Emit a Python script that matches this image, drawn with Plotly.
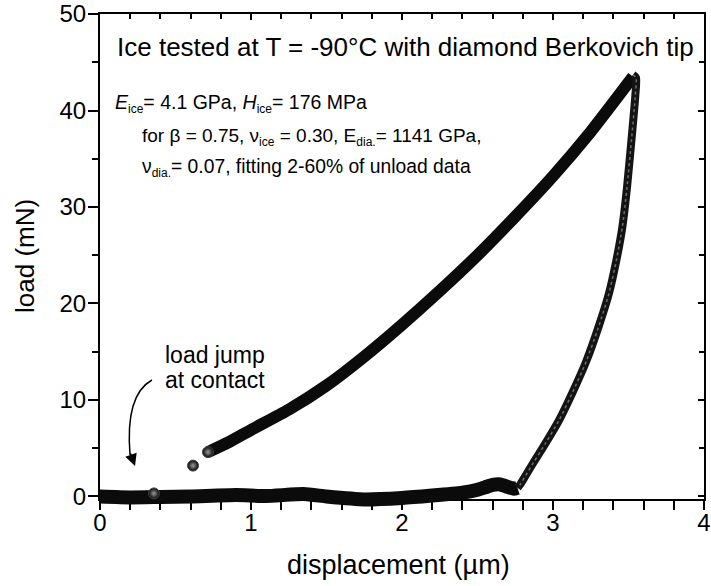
import plotly.graph_objects as go

# ---- data (displacement in µm, load in mN) ----
# isolated points before/at contact
contact_x = [-0.045, 0.357, 0.616, 0.715]
contact_y = [0.1, 0.32, 3.2, 4.6]

# loading branch
load_x = [0.715, 0.85, 1.0, 1.25, 1.5, 1.75, 2.0, 2.25, 2.5, 2.75, 3.0, 3.25, 3.53]
load_y = [4.6, 5.6, 6.9, 9.0, 11.5, 14.5, 17.8, 21.3, 25.0, 29.0, 33.2, 37.8, 43.5]

# unloading branch (peak down to the dip)
unload_x = [3.53, 3.55, 3.545, 3.52, 3.49, 3.46, 3.42, 3.37, 3.30, 3.22, 3.13, 3.04, 2.95, 2.87, 2.82, 2.785, 2.765]
unload_y = [43.7, 43.4, 41.5, 37.0, 32.0, 28.0, 24.5, 21.0, 17.5, 14.0, 10.8, 7.9, 5.5, 3.5, 2.2, 1.3, 0.9]

# retraction / baseline band near zero load
base_x = [2.765, 2.74, 2.70, 2.65, 2.60, 2.55, 2.50, 2.40, 2.20, 2.00, 1.75, 1.50, 1.35, 1.10, 0.90, 0.60, 0.40, 0.20, -0.02]
base_y = [0.9, 0.8, 1.0, 1.25, 1.2, 0.95, 0.7, 0.4, 0.1, -0.15, -0.3, 0.0, 0.25, 0.05, 0.15, 0.0, -0.05, -0.1, 0.0]

x_ticks = [0, 1, 2, 3, 4]
y_ticks = [0, 10, 20, 30, 40, 50]

FONT = "Liberation Sans, Arial, sans-serif"
X_RANGE = [0, 4]
Y_RANGE = [-0.26, 50]

# ---- geometry (pixels) ----
W, H = 711, 586
ML, MR, MT, MB = 100, 7, 14, 60
PAPER_BOTTOM = H - MB          # 526
PLOT_BOTTOM = 499              # where the x axis line sits
PAPER_H = PAPER_BOTTOM - MT
PAPER_W = W - ML - MR
main_y0 = (PAPER_BOTTOM - PLOT_BOTTOM) / PAPER_H
ppu = (PLOT_BOTTOM - MT) / (Y_RANGE[1] - Y_RANGE[0])
helper_ymin = Y_RANGE[0] - (PAPER_BOTTOM - PLOT_BOTTOM) / ppu


def px(xp):
    return (xp - ML) / PAPER_W


def py(yp):
    return (PAPER_BOTTOM - yp) / PAPER_H


def sub(t, size=12):
    return '<sub><span style="font-size:%dpx">%s</span></sub>' % (size, t)


fig = go.Figure()

# curves drawn on an invisible helper subplot that extends below the x axis (so the band is not clipped)
common = dict(xaxis="x3", yaxis="y3", hoverinfo="skip", showlegend=False, cliponaxis=False)
fig.add_trace(go.Scatter(x=base_x, y=base_y, mode="lines",
                         line=dict(color="#0b0b0b", width=14, shape="spline", smoothing=0.5), **common))
fig.add_trace(go.Scatter(x=load_x, y=load_y, mode="lines",
                         line=dict(color="#0b0b0b", width=12, shape="spline", smoothing=0.6), **common))
fig.add_trace(go.Scatter(x=unload_x, y=unload_y, mode="lines",
                         line=dict(color="#141414", width=8, shape="spline", smoothing=0.6), **common))
fig.add_trace(go.Scatter(x=unload_x, y=unload_y, mode="lines",
                         line=dict(color="#6e6e6e", width=1.5, shape="spline", smoothing=0.6, dash="dot"), **common))
fig.add_trace(go.Scatter(x=contact_x, y=contact_y, mode="markers",
                         marker=dict(size=11, color="#050505", line=dict(color="#444444", width=1),
                                     gradient=dict(type="radial", color="#9a9a9a")), **common))

# dummy traces for the visible axes
fig.add_trace(go.Scatter(x=[None], y=[None], showlegend=False, hoverinfo="skip"))
fig.add_trace(go.Scatter(x=[None], y=[None], xaxis="x2", yaxis="y2", showlegend=False, hoverinfo="skip"))

axis_common = dict(showline=True, linecolor="black", linewidth=2, showgrid=False, zeroline=False,
                   tickcolor="black", tickwidth=2, automargin=False,
                   tickfont=dict(family=FONT, size=24, color="black"))

fig.update_layout(
    xaxis=dict(range=X_RANGE, tickvals=x_ticks, ticks="outside", ticklen=9, anchor="y",
               ticklabelstandoff=-8,
               minor=dict(dtick=0.2, tick0=0, ticks="outside", ticklen=9, tickwidth=2, tickcolor="black"),
               **axis_common),
    yaxis=dict(range=Y_RANGE, domain=[main_y0, 1], tickvals=y_ticks, ticks="outside", ticklen=10,
               anchor="x", ticklabelstandoff=-3,
               minor=dict(dtick=5, tick0=0, ticks="outside", ticklen=6, tickwidth=2, tickcolor="black"),
               **axis_common),
    xaxis2=dict(overlaying="x", side="top", anchor="y2", range=X_RANGE, tickvals=x_ticks, ticks="inside",
                ticklen=6, showticklabels=False, showline=True, linecolor="black", linewidth=2,
                showgrid=False, zeroline=False, tickcolor="black", tickwidth=2, automargin=False,
                minor=dict(dtick=0.2, tick0=0, ticks="inside", ticklen=5, tickwidth=2, tickcolor="black")),
    yaxis2=dict(overlaying="y", side="right", anchor="x2", range=Y_RANGE, tickvals=y_ticks, ticks="inside",
                ticklen=6, showticklabels=False, showline=True, linecolor="black", linewidth=2,
                showgrid=False, zeroline=False, tickcolor="black", tickwidth=2, automargin=False,
                minor=dict(dtick=5, tick0=0, ticks="inside", ticklen=5, tickwidth=2, tickcolor="black")),
    xaxis3=dict(domain=[0, 1], range=X_RANGE, anchor="y3", visible=False, fixedrange=True),
    yaxis3=dict(domain=[0, 1], range=[helper_ymin, Y_RANGE[1]], anchor="x3", visible=False, fixedrange=True),
)

annotations = [
    dict(text="Ice tested at T = -90°C with diamond Berkovich tip", x=116, y=47, size=26),
    dict(text="<i>E</i>" + sub("ice") + "= 4.1 GPa, <i>H</i>" + sub("ice") + "= 176 MPa", x=114, y=103, size=19.5),
    dict(text="for β = 0.75, ν" + sub("ice") + " = 0.30, E" + sub("dia.") + "= 1141 GPa,", x=141, y=137, size=19),
    dict(text="ν" + sub("dia.") + "= 0.07, fitting 2-60% of unload data", x=141, y=168, size=19.3),
]
for a in annotations:
    fig.add_annotation(text=a["text"], x=px(a["x"]), y=py(a["y"]), xref="paper", yref="paper",
                       xanchor="left", yanchor="middle", showarrow=False, borderpad=0,
                       font=dict(family=FONT, size=a["size"], color="black"))

for txt, yy in [("load jump", 355), ("at contact", 380)]:
    fig.add_annotation(text=txt, x=px(215), y=py(yy), xref="paper", yref="paper",
                       xanchor="center", yanchor="middle", showarrow=False,
                       font=dict(family=FONT, size=23, color="black"))

# axis titles
fig.add_annotation(text="displacement (µm)", x=px(398), y=py(565), xref="paper", yref="paper",
                   xanchor="center", yanchor="middle", showarrow=False,
                   font=dict(family=FONT, size=27, color="black"))
fig.add_annotation(text="load (mN)", x=px(25), y=py(256), xref="paper", yref="paper", textangle=-90,
                   xanchor="center", yanchor="middle", showarrow=False,
                   font=dict(family=FONT, size=26, color="black"))

# curved arrow pointing at the contact point
fig.add_shape(type="path", xref="x", yref="y",
              path="M 0.344 12.07 Q 0.166 10.52 0.199 4.3",
              line=dict(color="black", width=1.5))
fig.add_annotation(x=0.232, y=3.16, xref="x", yref="y", ax=-5, ay=-14, text="", showarrow=True,
                   arrowhead=2, arrowsize=1.6, arrowwidth=1.5, arrowcolor="black", standoff=0)

fig.update_layout(width=W, height=H, margin=dict(l=ML, r=MR, t=MT, b=MB),
                  paper_bgcolor="white", plot_bgcolor="rgba(0,0,0,0)", font=dict(family=FONT))

fig.write_html("out.html")
